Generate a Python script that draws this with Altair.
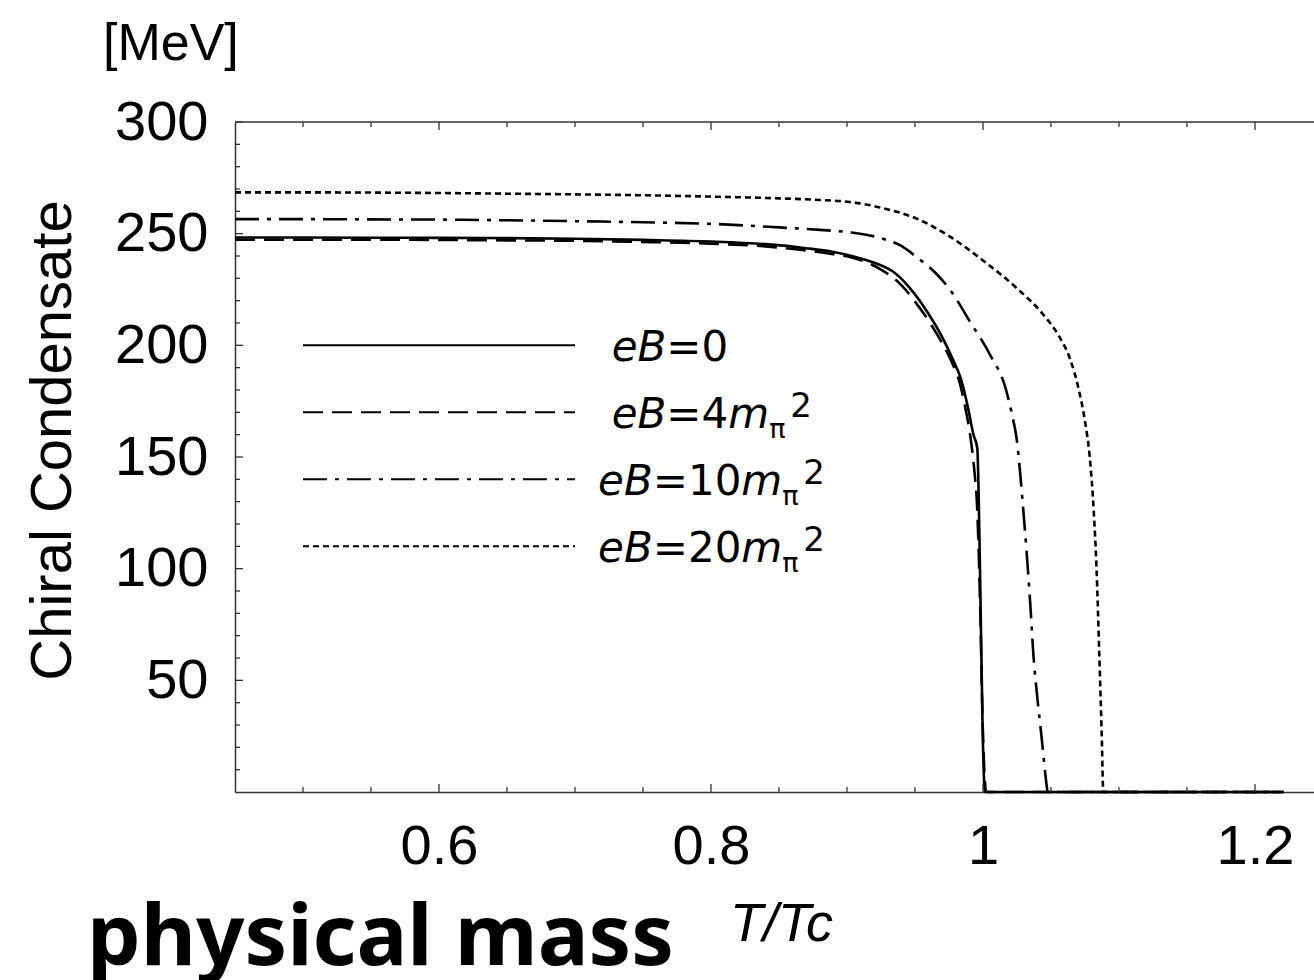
import altair as alt
import pandas as pd

# ---------------- data ----------------
T_eb0 = [0.45, 0.50, 0.55, 0.60, 0.65, 0.70, 0.75, 0.80, 0.84, 0.87, 0.89, 0.905,
         0.92, 0.935, 0.95, 0.96, 0.97, 0.978, 0.984, 0.989, 0.993, 0.9958, 0.9978,
         0.9998, 1.0015, 1.221]
C_eb0 = [248.3, 248.3, 248.2, 248.1, 248.0, 247.7, 247.2, 246.5, 245.3, 243.5, 241.8, 239.8,
         237.0, 232.5, 222.8, 214.0, 203.7, 193.5, 184.5, 172.0, 160.0, 154.0, 100.0,
         26.0, 0.0, 0.0]

T_eb4 = [0.45, 0.50, 0.55, 0.60, 0.65, 0.70, 0.75, 0.80, 0.84, 0.87, 0.89, 0.902,
         0.915, 0.926, 0.94, 0.951, 0.96, 0.97, 0.977, 0.983, 0.9875, 0.9904, 0.9941,
         0.9955, 0.9978, 0.9998, 1.0024, 1.221]
C_eb4 = [247.3, 247.3, 247.3, 247.2, 247.0, 246.8, 246.3, 245.5, 244.3, 242.5, 240.8, 239.6,
         237.0, 233.6, 227.0, 218.8, 211.0, 201.0, 192.5, 183.0, 170.5, 160.5, 141.0,
         130.0, 86.0, 30.0, 0.0, 0.0]

T_eb10 = [0.45, 0.50, 0.55, 0.60, 0.65, 0.70, 0.75, 0.80, 0.85, 0.88, 0.902, 0.926,
          0.94, 0.951, 0.965, 0.976, 0.99, 1.005, 1.017, 1.021, 1.025, 1.029, 1.032,
          1.035, 1.037, 1.040, 1.043, 1.0468, 1.0475, 1.221]
C_eb10 = [256.5, 256.5, 256.4, 256.3, 256.0, 255.6, 255.1, 254.4, 252.8, 251.7, 250.6, 247.8,
          244.5, 239.6, 232.5, 224.7, 211.0, 196.0, 180.0, 170.0, 157.0, 131.0, 108.0,
          82.0, 62.0, 42.0, 25.0, 3.0, 0.0, 0.0]

T_eb20 = [0.45, 0.50, 0.55, 0.60, 0.65, 0.70, 0.75, 0.80, 0.85, 0.88, 0.902, 0.926,
          0.951, 0.976, 1.0, 1.025, 1.044, 1.056, 1.064, 1.0705, 1.075, 1.0785, 1.0815,
          1.0835, 1.0855, 1.0873, 1.0885, 1.221]
C_eb20 = [268.5, 268.5, 268.4, 268.2, 267.9, 267.6, 267.2, 266.6, 265.8, 265.1, 264.2, 261.5,
          256.8, 248.6, 238.0, 225.5, 214.0, 204.0, 194.0, 180.0, 166.0, 150.0, 125.0,
          100.0, 62.0, 26.0, 0.0, 0.0]

series_keys = ["eB0", "eB4", "eB10", "eB20"]
legend_numbers = ["0", "4", "10", "20"]
legend_levels = [200, 170, 140, 110]          # y value of each legend row

x_label_values = [0.6, 0.8, 1.0, 1.2]
x_minor_values = [0.5, 0.55, 0.65, 0.7, 0.75, 0.85, 0.9, 0.95, 1.05, 1.1, 1.15]
y_label_values = [50, 100, 150, 200, 250, 300]
y_minor_values = [10, 20, 30, 40, 60, 70, 80, 90, 110, 120, 130, 140, 160, 170, 180, 190,
                  210, 220, 230, 240, 260, 270, 280, 290]

# ---------------- layout / style ----------------
XMIN, XMAX = 0.45, 1.2434
YMIN, YMAX = 0, 300
W, H = 1079, 670
PPX = W / (XMAX - XMIN)
PPY = H / (YMAX - YMIN)
FONT = "Liberation Sans"
AX = "#333333"

dashes = {"eB0": None, "eB4": [20, 9], "eB10": [24, 8, 4, 8], "eB20": [6, 4]}
legend_line_T = (0.5, 0.7)
legend_text_T = [0.727, 0.727, 0.717, 0.717]

xs = alt.Scale(domain=[XMIN, XMAX], nice=False, zero=False)
ys = alt.Scale(domain=[YMIN, YMAX], nice=False, zero=False)

x_axis = alt.Axis(values=x_label_values, format="~g", labelFont=FONT, labelFontSize=56,
                  labelColor="black", labelPadding=27, labelFlush=False, labelOverlap=False,
                  ticks=False, tickSize=0, grid=False, domainColor=AX, domainWidth=1.5,
                  title="T/Tc", titleFont="Liberation Sans Narrow, Liberation Sans",
                  titleFontSize=54, titleFontStyle="italic",
                  titleFontWeight="normal", titleColor="black", titleX=546, titleY=148,
                  titleAlign="center", titleBaseline="alphabetic", titleAngle=0)
y_axis = alt.Axis(values=y_label_values, labelFont=FONT, labelFontSize=56,
                  labelColor="black", labelPadding=27, labelFlush=False, labelOverlap=False,
                  ticks=False, tickSize=0, grid=False, domainColor=AX, domainWidth=1.5,
                  title="Chiral Condensate", titleFont=FONT, titleFontSize=58,
                  titleFontWeight="normal", titleColor="black", titleAngle=270,
                  titleX=-182, titleY=318, titleAlign="center", titleBaseline="middle")


def X(field):
    return alt.X(field, type="quantitative", scale=xs, axis=x_axis)


def Y(field):
    return alt.Y(field, type="quantitative", scale=ys, axis=y_axis)


one = pd.DataFrame({"k": [0]})
layers = []

# ---------- curves (first, so they own the axes) ----------
curves = {"eB0": (T_eb0, C_eb0), "eB4": (T_eb4, C_eb4),
          "eB10": (T_eb10, C_eb10), "eB20": (T_eb20, C_eb20)}
for key in series_keys:
    T, C = curves[key]
    df = pd.DataFrame({"T": T, "C": C})
    mk = dict(color="black", strokeWidth=2.6, interpolate="monotone")
    if dashes[key]:
        mk["strokeDash"] = dashes[key]
    layers.append(alt.Chart(df).mark_line(**mk).encode(x=X("T"), y=Y("C")))

# ---------- inward tick marks and top border ----------
MAJ, MIN_ = 8, 5
xt = []
for v in x_label_values:
    xt.append((v, 0, MAJ / PPY)); xt.append((v, YMAX, YMAX - MAJ / PPY))
for v in x_minor_values:
    xt.append((v, 0, MIN_ / PPY)); xt.append((v, YMAX, YMAX - MIN_ / PPY))
df_xt = pd.DataFrame(xt, columns=["T", "C", "C2"])
layers.append(alt.Chart(df_xt).mark_rule(color=AX, strokeWidth=1.3).encode(
    x=X("T"), y=Y("C"), y2="C2:Q"))

yt = [(XMIN, XMIN + MAJ / PPX, v) for v in y_label_values] + \
     [(XMIN, XMIN + MIN_ / PPX, v) for v in y_minor_values]
df_yt = pd.DataFrame(yt, columns=["T", "T2", "C"])
layers.append(alt.Chart(df_yt).mark_rule(color=AX, strokeWidth=1.3).encode(
    x=X("T"), x2="T2:Q", y=Y("C")))

df_top = pd.DataFrame({"T": [XMIN], "T2": [XMAX], "C": [YMAX]})
layers.append(alt.Chart(df_top).mark_rule(color=AX, strokeWidth=1.5).encode(
    x=X("T"), x2="T2:Q", y=Y("C")))

# ---------- legend ----------
LF = 42
LEG = "DejaVu Sans"
w = {"e": 0.615, "B": 0.686, "=": 0.838, "d": 0.636, "m": 0.974}
for i, key in enumerate(series_keys):
    yv = legend_levels[i]
    mk = dict(color="black", strokeWidth=2)
    if dashes[key]:
        mk["strokeDash"] = dashes[key]
    df_l = pd.DataFrame({"T": [legend_line_T[0]], "T2": [legend_line_T[1]], "C": [yv]})
    layers.append(alt.Chart(df_l).mark_rule(**mk).encode(x=X("T"), x2="T2:Q", y=Y("C")))

    num = legend_numbers[i]
    pieces = []
    dx = 0.0
    pieces.append(("eB", dx, 16, LF, "italic"))
    dx += (w["e"] + w["B"]) * LF
    pieces.append(("=" + num, dx, 16, LF, "normal"))
    dx += (w["="] + w["d"] * len(num)) * LF
    if num != "0":
        pieces.append(("m", dx, 16, LF, "italic"))
        dx += w["m"] * LF
        pieces.append(("π", dx, 26, 27, "normal"))
        pieces.append(("2", dx + 21, 5, 34, "normal"))
    df_t = pd.DataFrame({"T": [legend_text_T[i]], "C": [yv]})
    for txt, pdx, pdy, fs, st in pieces:
        layers.append(alt.Chart(df_t).mark_text(
            text=txt, font=LEG, fontSize=fs, fontStyle=st, color="black",
            align="left", baseline="alphabetic", dx=pdx, dy=pdy).encode(
            x=X("T"), y=Y("C")))

# ---------- free annotations ----------
layers.append(alt.Chart(one).mark_text(
    text="[MeV]", font=FONT, fontSize=52, color="black", align="left",
    baseline="alphabetic").encode(x=alt.value(103 - 235), y=alt.value(60 - 122)))
layers.append(alt.Chart(one).mark_text(
    text="physical mass", font="Noto Sans", fontSize=85, fontWeight="bold", color="black",
    align="left", baseline="alphabetic").encode(x=alt.value(87 - 235), y=alt.value(965 - 122)))

chart = alt.layer(*layers).properties(
    width=W, height=H,
    padding={"left": 235, "top": 122, "right": 0, "bottom": 188},
    autosize=alt.AutoSizeParams(type="none"),
    background="white",
).configure_view(stroke=None)

chart.save("out.html", embed_options={"renderer": "svg", "actions": False})
